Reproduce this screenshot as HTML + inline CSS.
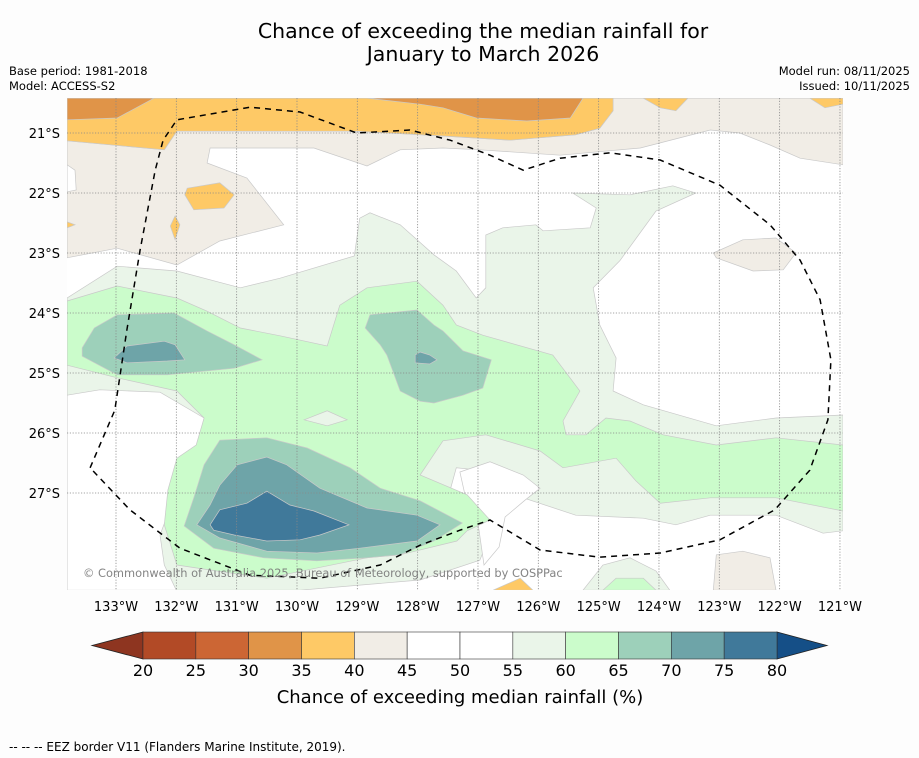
<!DOCTYPE html>
<html><head><meta charset="utf-8"><style>
body{margin:0;background:#fdfdfd;width:919px;height:758px;overflow:hidden;font-family:"DejaVu Sans","Liberation Sans",sans-serif;}
svg{display:block}
</style></head><body>
<svg id="chart" width="919" height="758" viewBox="0 0 919 758" xmlns="http://www.w3.org/2000/svg">
<rect width="919" height="758" fill="#fdfdfd"/>
<text x="483" y="38" text-anchor="middle" font-size="20.5" fill="#000">Chance of exceeding the median rainfall for</text>
<text x="483" y="61" text-anchor="middle" font-size="20.5" fill="#000">January to March 2026</text>
<text x="9" y="75" font-size="11.5">Base period: 1981-2018</text>
<text x="9" y="90" font-size="11.5">Model: ACCESS-S2</text>
<text x="910" y="75" font-size="11.5" text-anchor="end">Model run: 08/11/2025</text>
<text x="910" y="90" font-size="11.5" text-anchor="end">Issued: 10/11/2025</text>
<defs><clipPath id="mapclip"><rect x="67" y="98" width="776" height="492"/></clipPath></defs>
<rect x="67" y="98" width="776" height="492" fill="#ffffff"/>
<g id="map" clip-path="url(#mapclip)"></g>
<g id="axes"></g>
<g id="cbar"></g>
<text x="460" y="703" text-anchor="middle" font-size="18">Chance of exceeding median rainfall (%)</text>
<text x="9" y="751" font-size="12">--  --  -- EEZ border V11 (Flanders Marine Institute, 2019).</text>
</svg>
<script>
// Axis tick data
const lonTicks = [133,132,131,130,129,128,127,126,125,124,123,122,121];
const latTicks = [21,22,23,24,25,26,27];
// Colorbar data
const cbarLevels = [20,25,30,35,40,45,50,55,60,65,70,75,80];
const cbarColors = ["#b24a26","#cc6634","#e09448","#fec966","#f1ede6","#ffffff","#ffffff","#eaf5e9","#cbfccb","#9dd0ba","#6ea4a8","#40799a"];
const cbarUnder = "#8e3520";
const cbarOver = "#154f87";
// Level colour lookup for map regions
const levelColor = {40:"#f1ede6",35:"#fec966",30:"#e09448",50:"#ffffff",55:"#eaf5e9",60:"#cbfccb",65:"#9dd0ba",70:"#6ea4a8",75:"#40799a"};
// Contour regions: [level, polygon of [lonW, latS]] drawn in order
const regionLevels = [40,50,35,30,30,35,35,35,35,35,35,35,40,40,40,55,50,50,60,55,65,65,65,70,70,70,75,55,60];
const regionShapes = [
 [[133.81,21.13],[132.20,21.28],[131.99,20.97],[129.01,20.97],[127.58,21.05],[126.47,21.12],[125.38,21.03],[124.98,20.92],[124.76,20.63],[124.76,20.42],[120.95,20.42],[120.95,21.53],[121.66,21.42],[122.16,21.20],[122.66,21.00],[123.15,20.95],[124.31,21.25],[125.64,21.37],[126.97,21.28],[127.58,21.25],[128.29,21.28],[128.84,21.55],[129.72,21.25],[131.44,21.25],[131.49,21.50],[130.83,21.75],[130.22,22.53],[131.28,22.80],[131.99,23.20],[132.98,22.92],[133.81,23.08]],
 [[133.81,21.53],[133.68,21.62],[133.66,21.95],[133.81,21.98]],
 [[133.81,20.42],[124.76,20.42],[124.76,20.63],[124.98,20.92],[125.38,21.03],[126.47,21.12],[127.58,21.05],[129.01,20.97],[131.99,20.97],[132.20,21.28],[133.81,21.13]],
 [[133.81,20.42],[132.37,20.42],[132.98,20.75],[133.81,20.78]],
 [[128.84,20.42],[125.26,20.42],[125.47,20.75],[126.19,20.80],[127.03,20.75],[127.58,20.58],[127.96,20.52]],
 [[124.26,20.42],[123.52,20.42],[123.72,20.63],[123.98,20.58]],
 [[121.50,20.42],[120.95,20.42],[120.95,20.52],[121.25,20.58]],
 [[131.82,21.92],[131.28,21.83],[131.04,22.03],[131.21,22.25],[131.71,22.28],[131.86,22.03]],
 [[132.02,22.38],[131.94,22.53],[132.02,22.78],[132.10,22.55]],
 [[133.81,22.48],[133.68,22.53],[133.81,22.58]],
 [[133.81,25.78],[133.73,25.92],[133.81,26.07]],
 [[126.75,28.62],[126.30,28.42],[126.09,28.62]],
 [[123.10,23.00],[122.61,22.78],[122.06,22.75],[121.73,23.00],[121.94,23.28],[122.44,23.30],[123.05,23.08]],
 [[133.81,25.58],[133.27,25.75],[133.27,25.97],[133.48,26.47],[133.48,27.08],[133.81,27.08]],
 [[123.05,28.03],[122.61,27.97],[122.16,28.08],[122.06,28.62],[123.10,28.62]],
 [[133.81,23.75],[132.98,23.22],[131.99,23.30],[130.94,23.58],[130.28,23.42],[129.05,23.05],[128.96,22.42],[128.79,22.33],[128.29,22.53],[127.73,23.03],[127.36,23.30],[127.03,23.75],[126.87,23.58],[126.87,22.70],[126.59,22.58],[126.04,22.53],[125.92,22.63],[125.14,22.58],[125.04,22.25],[125.43,22.00],[124.48,22.03],[123.77,21.88],[123.39,22.00],[124.05,22.30],[124.65,23.13],[125.09,23.58],[124.98,24.20],[124.71,24.75],[124.76,25.30],[124.26,25.53],[123.05,25.88],[122.06,25.75],[120.95,25.70],[120.95,27.63],[121.28,27.67],[122.06,27.37],[123.15,27.37],[123.72,27.53],[124.26,27.42],[125.38,27.37],[126.25,27.08],[126.97,26.62],[127.36,26.58],[127.46,26.95],[127.13,27.45],[126.75,27.58],[126.97,28.12],[127.96,28.45],[129.95,28.62],[133.81,28.62]],
 [[133.81,25.37],[133.27,25.28],[132.27,25.32],[131.54,25.75],[131.69,26.45],[132.02,27.03],[132.27,27.70],[132.20,28.20],[132.00,28.62],[133.81,28.62]],
 [[127.30,26.65],[126.80,26.48],[126.25,26.70],[125.97,26.92],[126.22,27.12],[126.55,27.40],[126.65,27.90],[126.90,28.20],[127.00,27.50],[127.20,27.10]],
 [[133.81,23.80],[132.98,23.55],[131.99,23.75],[131.49,23.97],[130.94,24.25],[130.28,24.38],[129.50,24.55],[129.29,23.87],[128.84,23.58],[128.01,23.47],[127.58,23.87],[127.36,24.20],[126.92,24.37],[125.76,24.70],[125.31,25.30],[125.59,25.80],[125.54,26.03],[125.21,26.03],[124.88,25.75],[124.48,25.80],[123.93,26.03],[123.05,26.20],[122.06,26.08],[120.95,26.20],[120.95,27.30],[122.06,27.08],[123.15,27.08],[123.98,27.17],[124.38,26.80],[124.71,26.42],[125.59,26.58],[125.97,26.30],[126.87,26.03],[127.58,26.13],[127.96,26.70],[127.18,27.03],[126.80,27.45],[127.18,27.63],[127.35,27.80],[128.29,28.03],[128.84,28.08],[130.50,28.42],[131.33,28.30],[131.99,28.20],[132.20,27.53],[132.14,26.95],[131.99,26.42],[131.67,26.20],[131.54,25.75],[131.99,25.30],[132.98,25.08],[133.81,24.87]],
 [[129.88,25.78],[129.50,25.63],[129.17,25.78],[129.50,25.88]],
 [[133.56,24.58],[133.36,24.25],[132.98,24.03],[132.04,24.00],[131.49,24.30],[131.04,24.53],[130.58,24.78],[131.04,24.92],[132.15,25.03],[132.98,25.03],[133.56,24.72]],
 [[128.87,24.25],[128.79,24.03],[128.01,23.95],[127.73,24.20],[127.58,24.30],[127.25,24.63],[126.78,24.78],[126.92,25.25],[127.25,25.37],[127.73,25.50],[127.96,25.47],[128.29,25.30],[128.51,24.70],[128.62,24.53]],
 [[131.28,26.12],[130.50,26.08],[129.83,26.25],[129.12,26.58],[128.62,26.92],[127.96,27.13],[127.26,27.50],[127.73,27.80],[128.29,28.03],[128.84,28.08],[129.67,28.13],[130.55,28.08],[131.38,27.92],[131.87,27.55],[131.71,27.08],[131.54,26.53]],
 [[133.03,24.75],[132.82,24.55],[132.20,24.47],[132.02,24.53],[131.86,24.78],[132.15,24.80],[132.82,24.83]],
 [[128.04,24.70],[127.96,24.65],[127.80,24.70],[127.68,24.78],[127.80,24.85],[128.04,24.83]],
 [[130.99,26.53],[130.50,26.40],[130.17,26.53],[129.62,26.92],[128.84,27.25],[128.01,27.37],[127.63,27.53],[128.01,27.80],[128.96,27.92],[129.67,28.00],[130.50,27.97],[131.28,27.75],[131.66,27.53],[131.44,27.20],[131.28,26.87]],
 [[131.44,27.53],[131.28,27.28],[130.83,27.17],[130.50,26.97],[130.12,27.20],[129.72,27.30],[129.14,27.53],[129.62,27.70],[129.95,27.78],[130.50,27.80],[131.04,27.70],[131.38,27.62]],
 [[125.26,28.62],[124.93,28.20],[124.48,28.08],[124.05,28.30],[123.82,28.62]],
 [[124.93,28.62],[124.71,28.42],[124.26,28.42],[124.05,28.62]]
];
// EEZ border line [lonW, latS]
const eezLine = [[133.43,26.58],[133.02,25.62],[132.82,24.28],[132.60,22.95],[132.35,21.62],[132.22,21.12],[131.99,20.78],[130.78,20.57],[129.95,20.65],[129.01,21.00],[128.13,20.95],[127.46,21.12],[126.80,21.37],[126.25,21.62],[125.64,21.42],[124.81,21.33],[123.98,21.45],[122.99,21.87],[122.16,22.53],[121.66,23.12],[121.33,23.78],[121.15,24.78],[121.20,25.78],[121.50,26.62],[122.08,27.28],[122.99,27.78],[123.98,28.00],[124.98,28.07],[125.97,27.95],[126.80,27.45],[127.30,27.62],[127.96,27.87],[128.62,28.20],[129.62,28.42],[130.78,28.37],[131.94,27.92],[132.77,27.28],[133.43,26.58]];

const NS="http://www.w3.org/2000/svg";
function xLon(lon){return 116+(133-lon)*60.33;}
function yLat(lat){return 133+(lat-21)*60;}
function xLevel(v){return 143+(v-20)*(634/60);}
function mk(tag,attrs,parent){const e=document.createElementNS(NS,tag);for(const k in attrs)e.setAttribute(k,attrs[k]);parent.appendChild(e);return e;}
const map=document.getElementById('map');
regionShapes.forEach((poly,i)=>{
  const pts=poly.map(p=>xLon(p[0]).toFixed(1)+","+yLat(p[1]).toFixed(1)).join(" ");
  const el=mk('polygon',{points:pts,fill:levelColor[regionLevels[i]],stroke:"#c9c9c9","stroke-width":"0.7"},map);
  
  
});
// grid
lonTicks.forEach(l=>{const el=mk('line',{x1:xLon(l),x2:xLon(l),y1:98,y2:590,stroke:"#888","stroke-width":"0.8","stroke-dasharray":"1.2,1.6"},map);
  
  });
latTicks.forEach(l=>{const el=mk('line',{x1:67,x2:843,y1:yLat(l),y2:yLat(l),stroke:"#888","stroke-width":"0.8","stroke-dasharray":"1.2,1.6"},map);
  
  });
const eez=mk('polyline',{points:eezLine.map(p=>xLon(p[0]).toFixed(1)+","+yLat(p[1]).toFixed(1)).join(" "),fill:"none",stroke:"#000","stroke-width":"1.5","stroke-dasharray":"6,5"},map);


const cp=mk('text',{x:83,y:577,"font-size":"11.4",fill:"#777","fill-opacity":"0.9"},map);
cp.textContent="© Commonwealth of Australia 2025, Bureau of Meteorology, supported by COSPPac";


// axes labels
const axes=document.getElementById('axes');
lonTicks.forEach(l=>{const t=mk('text',{x:xLon(l),y:611,"text-anchor":"middle","font-size":"13"},axes);t.textContent=l+"°W";
  
  });
latTicks.forEach(l=>{const t=mk('text',{x:60,y:yLat(l)+5,"text-anchor":"end","font-size":"13"},axes);t.textContent=l+"°S";
  
  });
// colorbar
const cb=document.getElementById('cbar');
const y0=632,h=27;
const under=mk('polygon',{points:`${xLevel(20)},${y0} ${xLevel(20)},${y0+h} 92,${y0+h/2}`,fill:cbarUnder,stroke:"#222","stroke-width":"0.8"},cb);


const over=mk('polygon',{points:`${xLevel(80)},${y0} ${xLevel(80)},${y0+h} 827,${y0+h/2}`,fill:cbarOver,stroke:"#222","stroke-width":"0.8"},cb);


cbarColors.forEach((c,i)=>{const x1=xLevel(cbarLevels[i]),x2=xLevel(cbarLevels[i+1]);
  const r=mk('rect',{x:x1,y:y0,width:x2-x1,height:h,fill:c,stroke:"#333","stroke-width":"0.6"},cb);
  
  });
cbarLevels.forEach(v=>{const t=mk('text',{x:xLevel(v),y:676,"text-anchor":"middle","font-size":"16"},cb);t.textContent=v;
  
  });
</script>
</body></html>
